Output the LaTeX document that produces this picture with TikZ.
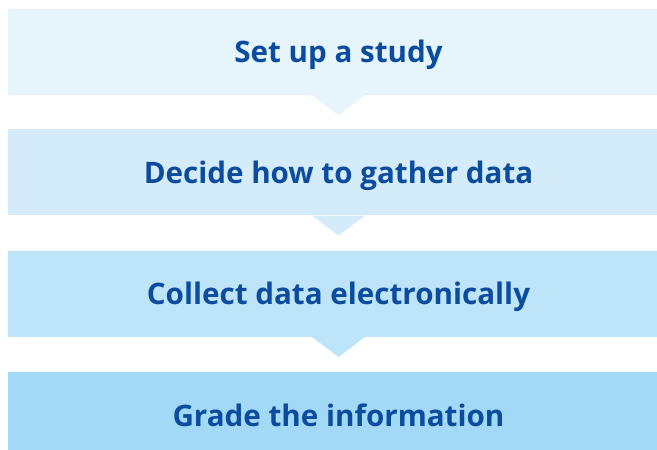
\documentclass[tikz,border=0pt]{standalone}
\usepackage{fontspec}
\setmainfont{Open Sans}
\usepackage{xcolor}
\usepackage{tikz}
\usetikzlibrary{positioning,calc}

\definecolor{stepone}{HTML}{E6F4FC}
\definecolor{steptwo}{HTML}{D4EBFA}
\definecolor{stepthree}{HTML}{BDE4F9}
\definecolor{stepfour}{HTML}{A2D9F6}
\definecolor{steptext}{HTML}{0B4C9E}

\begin{document}
\begin{tikzpicture}[x=1pt,y=1pt,
  stepbox/.style={rectangle, inner sep=0pt, minimum width=661pt, minimum height=86pt,
    text height=26pt, text depth=4pt,
    font=\fontsize{29.6}{34}\selectfont\bfseries, text=steptext}]

\useasboundingbox (0,0) rectangle (657,450);
\clip (0,0) rectangle (657,450);

% Steps of the process
\node[stepbox, fill=stepone] (setup) at (338.5,398) {Set up a study};
\node[stepbox, fill=steptwo, below=34pt of setup] (decide) {Decide how to gather data};
\node[stepbox, fill=stepthree, below=35pt of decide] (collect) {Collect data electronically};
\node[stepbox, fill=stepfour, below=35pt of collect] (grade) {Grade the information};

% Pointers between the steps
\fill[stepone] ($(setup.south)+(-26.5,0)$) -- ($(setup.south)+(0,-20)$) -- ($(setup.south)+(26.5,0)$) -- cycle;
\fill[steptwo] ($(decide.south)+(-26.5,0)$) -- ($(decide.south)+(0,-20)$) -- ($(decide.south)+(26.5,0)$) -- cycle;
\fill[stepthree] ($(collect.south)+(-26.5,0)$) -- ($(collect.south)+(0,-20)$) -- ($(collect.south)+(26.5,0)$) -- cycle;

\end{tikzpicture}
\end{document}
